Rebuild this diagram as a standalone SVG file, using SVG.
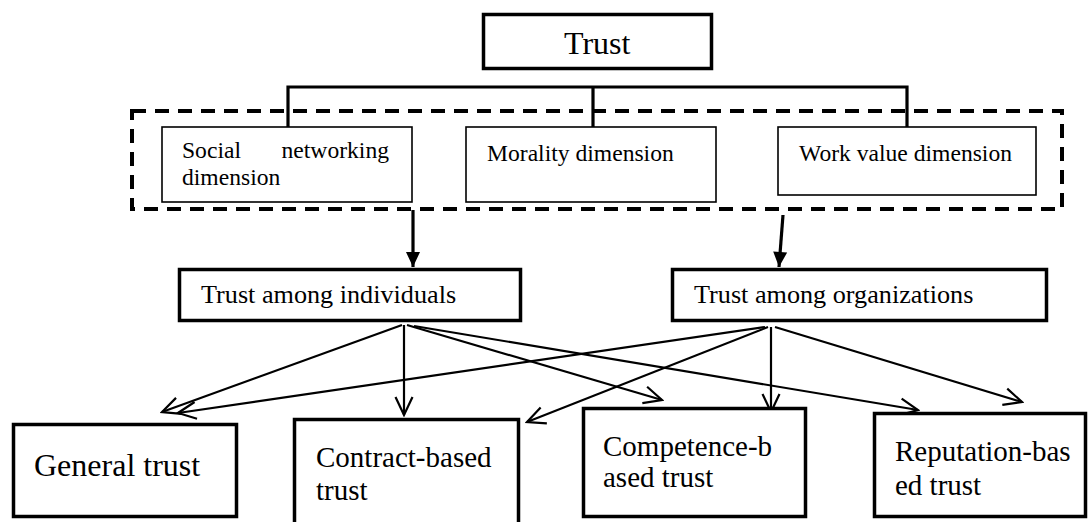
<svg xmlns="http://www.w3.org/2000/svg" width="1090" height="522" viewBox="0 0 1090 522">
  <style>
    text { font-family: "Liberation Serif", "Times New Roman", serif; fill: #000; }
    .box { fill: #fff; stroke: #000; stroke-width: 3.5; }
    .dim { fill: #fff; stroke: #000; stroke-width: 1.6; }
    .frame { fill: none; stroke: #000; stroke-width: 4; stroke-dasharray: 14 9; }
    .bracket { fill: none; stroke: #000; stroke-width: 3.2; }
    .thick { fill: none; stroke: #000; stroke-width: 3.2; marker-end: url(#solid); }
    .thin { fill: none; stroke: #000; stroke-width: 2.2; marker-end: url(#open); }
    .t32 { font-size: 32px; }
    .t29 { font-size: 29px; }
    .t26 { font-size: 26.2px; }
    .t23 { font-size: 23.6px; }
  </style>
  <defs>
    <marker id="solid" viewBox="-16 -8 17 16" markerWidth="17" markerHeight="16" refX="0" refY="0" orient="auto" markerUnits="userSpaceOnUse">
      <path d="M-15,-7 L0,0 L-15,7 Z" fill="#000"/>
    </marker>
    <marker id="open" viewBox="-20 -11 22 22" markerWidth="22" markerHeight="22" refX="0" refY="0" orient="auto" markerUnits="userSpaceOnUse">
      <path d="M-18,-8.5 L0,0 L-18,8.5" fill="none" stroke="#000" stroke-width="2.2"/>
    </marker>
  </defs>

  <!-- dashed frame around the three dimensions -->
  <rect class="frame" x="132" y="111" width="930" height="98"/>

  <!-- connectors -->
  <g id="connectors">
    <!-- bracket from the top node to the dimensions -->
    <path class="bracket" d="M288,127 V87 H907 V127 M593,87 V127"/>
    <!-- dimensions to the two trust levels -->
    <line class="thick" x1="413" y1="210" x2="413" y2="267"/>
    <line class="thick" x1="783" y1="215" x2="779" y2="267"/>
    <!-- trust among individuals -->
    <line class="thin" x1="402" y1="325" x2="162" y2="412"/>
    <line class="thin" x1="404" y1="325" x2="404" y2="415"/>
    <line class="thin" x1="407" y1="325" x2="662" y2="400"/>
    <line class="thin" x1="414" y1="326" x2="918" y2="410"/>
    <!-- trust among organizations -->
    <line class="thin" x1="765" y1="327" x2="178" y2="413"/>
    <line class="thin" x1="768" y1="327" x2="527" y2="422"/>
    <line class="thin" x1="771" y1="327" x2="771" y2="412"/>
    <line class="thin" x1="775" y1="327" x2="1022" y2="402"/>
  </g>

  <g id="trust">
    <rect class="box" x="483.5" y="14.5" width="228" height="54"/>
    <text class="t32" x="564" y="54">Trust</text>
  </g>

  <g id="social-networking">
    <rect class="dim" x="162" y="127" width="250" height="75"/>
    <text class="t23" x="182" y="158">Social</text>
    <text class="t23" x="389" y="158" text-anchor="end">networking</text>
    <text class="t23" x="182" y="185">dimension</text>
  </g>

  <g id="morality">
    <rect class="dim" x="466" y="127" width="250" height="75"/>
    <text class="t23" x="487" y="161">Morality dimension</text>
  </g>

  <g id="work-value">
    <rect class="dim" x="778" y="127" width="258" height="68"/>
    <text class="t23" x="799" y="161">Work value dimension</text>
  </g>

  <g id="individuals">
    <rect class="box" x="179.5" y="269.5" width="341" height="51"/>
    <text class="t26" x="201" y="303">Trust among individuals</text>
  </g>

  <g id="organizations">
    <rect class="box" x="672.5" y="269.5" width="374" height="51"/>
    <text class="t26" x="694" y="303">Trust among organizations</text>
  </g>

  <g id="general">
    <rect class="box" x="13.5" y="424.5" width="223" height="92"/>
    <text class="t32" x="34" y="476">General trust</text>
  </g>

  <g id="contract">
    <rect class="box" x="294.5" y="419.5" width="224" height="106"/>
    <text class="t29" x="316" y="467">Contract-based</text>
    <text class="t29" x="316" y="500">trust</text>
  </g>

  <g id="competence">
    <rect class="box" x="583.5" y="408.5" width="222" height="108"/>
    <text class="t29" x="603" y="456">Competence-b</text>
    <text class="t29" x="603" y="487">ased trust</text>
  </g>

  <g id="reputation">
    <rect class="box" x="874.5" y="413.5" width="211" height="103"/>
    <text class="t29" x="895" y="461">Reputation-bas</text>
    <text class="t29" x="895" y="495">ed trust</text>
  </g>
</svg>
